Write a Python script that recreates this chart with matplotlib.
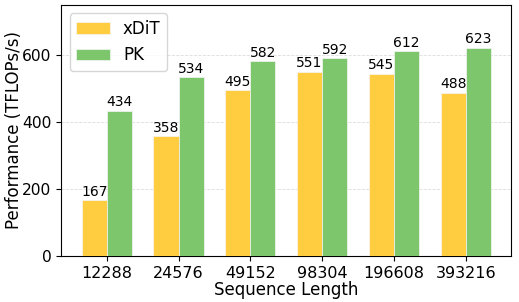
import numpy as np
import matplotlib
matplotlib.use('Agg')
import matplotlib.pyplot as plt

seq_lens = ['12288', '24576', '49152', '98304', '196608', '393216']
xdit = [167, 358, 495, 551, 545, 488]
pk = [434, 534, 582, 592, 612, 623]

c_xdit = '#FFCD3F'
c_pk = '#7DC66B'

fig, ax = plt.subplots(figsize=(5.19, 3.02), dpi=100)
x = np.arange(len(seq_lens))
w = 0.35

b1 = ax.bar(x - w/2, xdit, w, color=c_xdit, edgecolor='#F5F5F5', linewidth=0.5, label='xDiT', zorder=3)
b2 = ax.bar(x + w/2, pk, w, color=c_pk, edgecolor='#F5F5F5', linewidth=0.5, label='PK', zorder=3)
ax.bar_label(b1, padding=1, fontsize=10)
ax.bar_label(b2, padding=1, fontsize=10)

ax.set_xticks(x)
ax.set_xticklabels(seq_lens, fontsize=11.5)
ax.tick_params(axis='y', labelsize=11.2)
ax.set_ylim(0, 750)
ax.set_yticks([0, 200, 400, 600])
ax.set_xlabel('Sequence Length', fontsize=12)
ax.set_ylabel('Performance (TFLOPs/s)', fontsize=12)
ax.yaxis.set_label_coords(-0.085, 0.5)
ax.xaxis.set_label_coords(0.5, -0.1)
ax.yaxis.grid(True, linestyle='--', color='#DDDDDD', linewidth=0.6, zorder=0)
ax.legend(loc='upper left', fontsize=12)

fig.subplots_adjust(left=0.118, right=0.985, top=0.983, bottom=0.153)
fig.savefig('out.png', dpi=100)
